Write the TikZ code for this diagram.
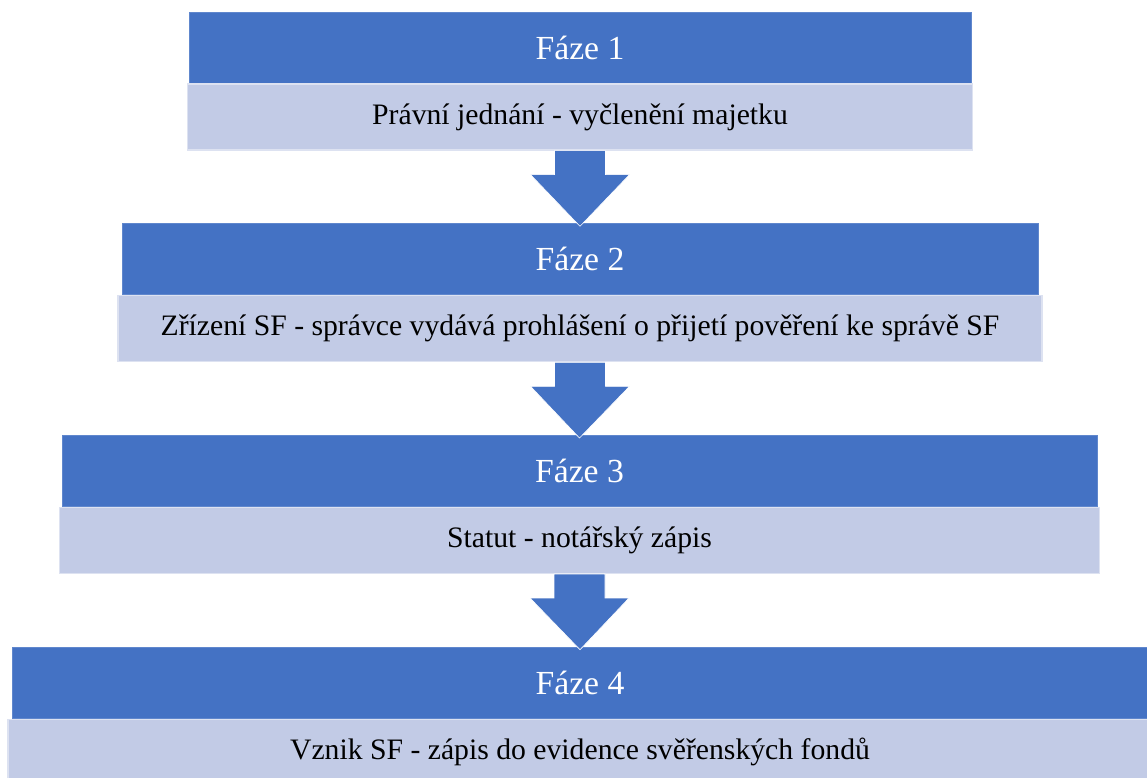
\documentclass[tikz,border=0pt]{standalone}
\usepackage{fontspec}
\setmainfont{Liberation Serif}
\definecolor{PhaseBlue}{RGB}{68,114,196}
\definecolor{PhaseLight}{RGB}{194,203,230}
\usetikzlibrary{positioning, arrows.meta, calc}

\begin{document}
\begin{tikzpicture}[x=1pt, y=-1pt,
    phasehead/.style={fill=PhaseBlue, draw=PhaseBlue!85!white, line width=0.8pt, text=white,
      font=\fontsize{33.7}{36}\selectfont, inner sep=0pt, minimum height=71pt},
    phasebody/.style={fill=PhaseLight, draw=PhaseLight!55!white, line width=1.2pt, text=black,
      font=\fontsize{29.7}{32}\selectfont, inner sep=0pt, minimum height=66pt},
    downarrow/.style={fill=PhaseBlue, draw=white, line width=0.6pt}]
  \useasboundingbox (0,0) rectangle (1147,778);

  \node[phasehead, minimum width=782pt] (h1) at (580,47.5) {Fáze 1};
  \node[phasebody, minimum width=785pt, below=0pt of h1] (b1) {Právní jednání - vyčlenění majetku};

  \node[phasehead, minimum width=916pt] (h2) at (580,259.2) {Fáze 2};
  \node[phasebody, minimum width=924pt, below=0pt of h2] (b2) {Zřízení SF - správce vydává prohlášení o přijetí pověření ke správě SF};

  \node[phasehead, minimum width=1035pt] (h3) at (579.5,470.9) {Fáze 3};
  \node[phasebody, minimum width=1040pt, below=0pt of h3] (b3) {Statut - notářský zápis};

  \node[phasehead, minimum width=1136pt] (h4) at (580,682.6) {Fáze 4};
  \node[phasebody, minimum width=1144pt, below=0pt of h4] (b4) {Vznik SF - zápis do evidence svěřenských fondů};

  \foreach \i/\j in {1/2, 2/3, 3/4}{
    \draw[downarrow] ($(b\i.south)+(-25.5,0)$) -- ++(0,24) -- ++(-24,0)
      -- ($(h\j.north)+(0,3)$) -- ($(b\i.south)+(49.5,24)$) -- ++(-24,0)
      -- ($(b\i.south)+(25.5,0)$) -- cycle;
  }
\end{tikzpicture}
\end{document}
